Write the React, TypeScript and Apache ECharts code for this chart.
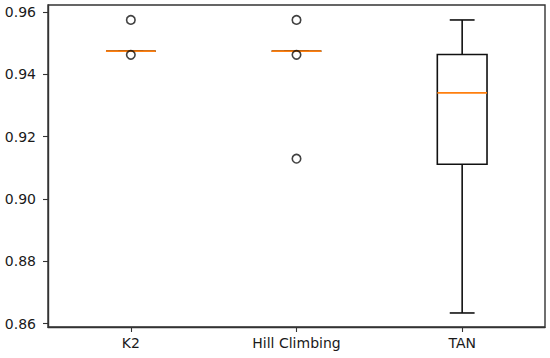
import React, { useEffect, useRef } from "react";
import * as echarts from "echarts";

const categories = ["K2", "Hill Climbing", "TAN"];
const whiskerLow = [0.9474, 0.9474, 0.8634];
const quartile1 = [0.9474, 0.9474, 0.9111];
const medians = [0.9474, 0.9474, 0.934];
const quartile3 = [0.9474, 0.9474, 0.9463];
const whiskerHigh = [0.9474, 0.9474, 0.9574];
const outliers: [number, number][] = [
  [0, 0.9574],
  [0, 0.9462],
  [1, 0.9574],
  [1, 0.9462],
  [1, 0.9129],
];
const yTicks = [0.86, 0.88, 0.9, 0.92, 0.94, 0.96];
const yMin = 0.8589;
const yMax = 0.9622;

const FONT = "DejaVu Sans";

export default function App() {
  const ref = useRef<HTMLDivElement>(null);
  useEffect(() => {
    if (!ref.current) return;
    const chart = echarts.init(ref.current, undefined, { renderer: "svg" });
    const boxData = categories.map((_, i) => [
      i,
      whiskerLow[i],
      quartile1[i],
      medians[i],
      quartile3[i],
      whiskerHigh[i],
    ]);
    chart.setOption({
      animation: false,
      grid: {
        left: 48,
        right: 5,
        top: 5,
        bottom: 31,
        show: true,
        borderColor: "#333",
        borderWidth: 1.4,
        backgroundColor: "transparent",
      },
      xAxis: {
        type: "category",
        data: categories,
        boundaryGap: true,
        axisLine: { show: true, lineStyle: { color: "#333", width: 1.4 } },
        axisTick: {
          show: true,
          alignWithLabel: true,
          length: 5,
          lineStyle: { color: "#333", width: 1.1 },
        },
        axisLabel: {
          color: "#1a1a1a",
          fontFamily: FONT,
          fontSize: 14,
          margin: 9,
        },
        splitLine: { show: false },
      },
      yAxis: {
        type: "value",
        min: yMin,
        max: yMax,
        axisLine: { show: true, lineStyle: { color: "#333", width: 1.4 } },
        axisTick: {
          show: true,
          length: 5,
          customValues: yTicks,
          lineStyle: { color: "#333", width: 1.1 },
        },
        axisLabel: {
          color: "#1a1a1a",
          fontFamily: FONT,
          fontSize: 14,
          margin: 12,
          customValues: yTicks,
          formatter: (v: number) => v.toFixed(2),
        },
        splitLine: { show: false },
      },
      series: [
        {
          type: "custom",
          data: boxData,
          encode: { x: 0, y: [1, 2, 3, 4, 5] },
          renderItem: (params: any, api: any) => {
            const idx = api.value(0);
            const band = api.size([1, 0])[0];
            const half = (band * 0.3) / 2;
            const capHalf = half / 2;
            const pLow = api.coord([idx, api.value(1)]);
            const pQ1 = api.coord([idx, api.value(2)]);
            const pMed = api.coord([idx, api.value(3)]);
            const pQ3 = api.coord([idx, api.value(4)]);
            const pHigh = api.coord([idx, api.value(5)]);
            const cx = pMed[0];
            const black = { stroke: "#111", lineWidth: 1.6, fill: "none" };
            return {
              type: "group",
              children: [
                {
                  type: "line",
                  shape: { x1: cx, y1: pQ1[1], x2: cx, y2: pLow[1] },
                  style: black,
                },
                {
                  type: "line",
                  shape: { x1: cx, y1: pQ3[1], x2: cx, y2: pHigh[1] },
                  style: black,
                },
                {
                  type: "line",
                  shape: { x1: cx - capHalf, y1: pLow[1], x2: cx + capHalf, y2: pLow[1] },
                  style: black,
                },
                {
                  type: "line",
                  shape: { x1: cx - capHalf, y1: pHigh[1], x2: cx + capHalf, y2: pHigh[1] },
                  style: black,
                },
                {
                  type: "rect",
                  shape: {
                    x: cx - half,
                    y: pQ3[1],
                    width: half * 2,
                    height: Math.max(pQ1[1] - pQ3[1], 0),
                  },
                  style: black,
                },
                {
                  type: "line",
                  shape: { x1: cx - half, y1: pMed[1], x2: cx + half, y2: pMed[1] },
                  style: { stroke: "#ff7f0e", lineWidth: 1.7 },
                },
              ],
            };
          },
          z: 2,
        },
        {
          type: "scatter",
          data: outliers,
          symbol: "circle",
          symbolSize: 8.5,
          itemStyle: { color: "transparent", borderColor: "#111", borderWidth: 1.6 },
          z: 3,
        },
      ],
    });
    return () => chart.dispose();
  }, []);
  return (
    <div
      ref={ref}
      style={{ position: "fixed", left: 0, top: 0, width: 550, height: 358, background: "#fff" }}
    />
  );
}
